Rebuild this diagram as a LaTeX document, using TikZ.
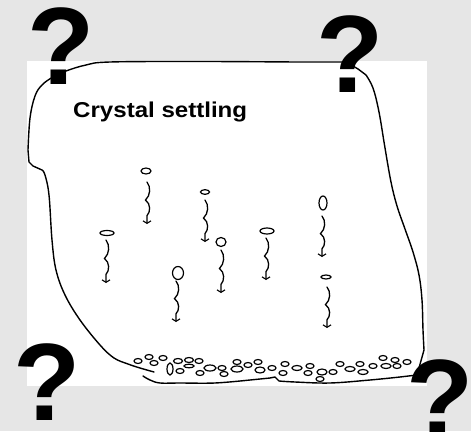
\documentclass[tikz,border=0pt]{standalone}
\usepackage{fontspec}
\setmainfont{Liberation Sans}
\usetikzlibrary{arrows.meta}
\definecolor{slidebg}{HTML}{E6E6E6}
\begin{document}
\begin{tikzpicture}[x=1pt,y=-1pt,
  wall/.style={line width=1.4pt,line join=round,line cap=round},
  grain/.style={line width=1.2pt},
  fallpath/.style={line width=1.3pt,line cap=round,-{Straight Barb[length=2.5pt,width=8pt,line width=1.1pt]}},
  qmark/.style={font=\bfseries\fontsize{110}{110}\selectfont,inner sep=0pt}]
\useasboundingbox (0,0) rectangle (471,431);
\fill[slidebg] (0,0) rectangle (471,431);
\fill[white] (27,61) rectangle (427,386);

% chamber wall: left side, top, right side and floor
\draw[wall] plot[smooth,tension=0.6] coordinates {(154,372) (140,368) (128,364) (114,358) (100,345) (80,320) (65,295) (56,270) (52,240) (49,195) (45,175) (42,170)}
  -- (33,166) -- (29,162)
  -- plot[smooth,tension=0.6] coordinates {(28,150) (30,118) (35,96) (42,85) (53,77) (66,71) (86,65) (110,62) (200,61.5) (300,62) (352,62)}
  -- (353,66) -- (358,69)
  -- plot[smooth,tension=0.6] coordinates {(366,75) (373,88) (379,112) (385,148) (391,182) (397,206) (405,229) (413,252) (419,275) (422,300) (423,330) (424,350)}
  -- (417,375)
  -- plot[smooth,tension=0.6] coordinates {(400,377) (370,380) (330,383) (295,382) (279,381)}
  -- (275,377) -- (270,378)
  -- plot[smooth,tension=0.6] coordinates {(250,380) (215,383) (180,383) (160,383) (150,380) (143,376)};

% sinking crystals: x/y/rx/ry of the grain, then x/top/bottom of its path
\foreach \ex/\ey/\rx/\ry/\sx/\st/\sb in {
  146/171/5/3/147/182/224,
  205/192/4.5/2.3/205/200/242,
  107/233/7/2.5/106/240/283,
  178/273/5.5/6.5/176/281/322,
  221/242/5/4.5/221/250/293,
  267/231/7/3/266/238/280,
  323/203/4/7/322/216/257,
  326/277/5/2/327/287/328} {
  \draw[grain] (\ex,\ey) ellipse[x radius=\rx,y radius=\ry];
  \pgfmathsetmacro\len{\sb-\st}
  \draw[fallpath] (\sx,\st)
    .. controls (\sx+4,\st+0.12*\len) and (\sx+3.5,\st+0.32*\len) .. (\sx-1.5,\st+0.43*\len)
    .. controls (\sx+4,\st+0.52*\len) and (\sx+3.5,\st+0.72*\len) .. (\sx,\st+0.8*\len)
    -- (\sx,\sb);
}

% crystal pile on the floor
\foreach \ex/\ey/\rx/\ry in {
  138/361/4/2.5, 149/357/4/2.5, 154/363/4/2.5, 163/358/4/2.5, 170/369/3/6,
  178/361/4.5/2.5, 180/371/4/2.5, 189/360/4.5/2.5, 189/366/5/1.8, 199/361/4/2.5,
  200/373/4/2.5, 210/368/6/3, 222/368/4/2.5, 224/374/4/2.5, 237/362/4/2.5,
  237/369/6/3, 248/365/4/2.5, 258/362/4/2.5, 260/370/5/3, 272/368/4/2.5,
  285/364/4/2.5, 283/373/4/2.5, 297/368/5/2.5, 308/373/4/2.5, 310/366/4/2.5,
  322/372/5/3, 320/379/4/2.5, 333/372/4/2.5, 340/364/4/2.5, 350/369/5/2.5,
  360/364/4/2.5, 363/372/5/2.5, 373/366/4/2.5, 383/358/4/2.5, 386/366/5/2.5,
  395/360/4/2.5, 397/366/4/2.5, 407/362/4/2.5} {
  \draw[grain] (\ex,\ey) ellipse[x radius=\rx,y radius=\ry];
}

\node[anchor=base west,inner sep=0pt,font=\bfseries\fontsize{21.5}{24}\selectfont,xscale=1.12] (title) at (73,117) {Crystal settling};

\node[qmark] (q1) at (61,46) {?};
\node[qmark] (q2) at (350,54) {?};
\node[qmark] (q3) at (47,382) {?};
\node[qmark] (q4) at (440,398) {?};
\end{tikzpicture}
\end{document}
